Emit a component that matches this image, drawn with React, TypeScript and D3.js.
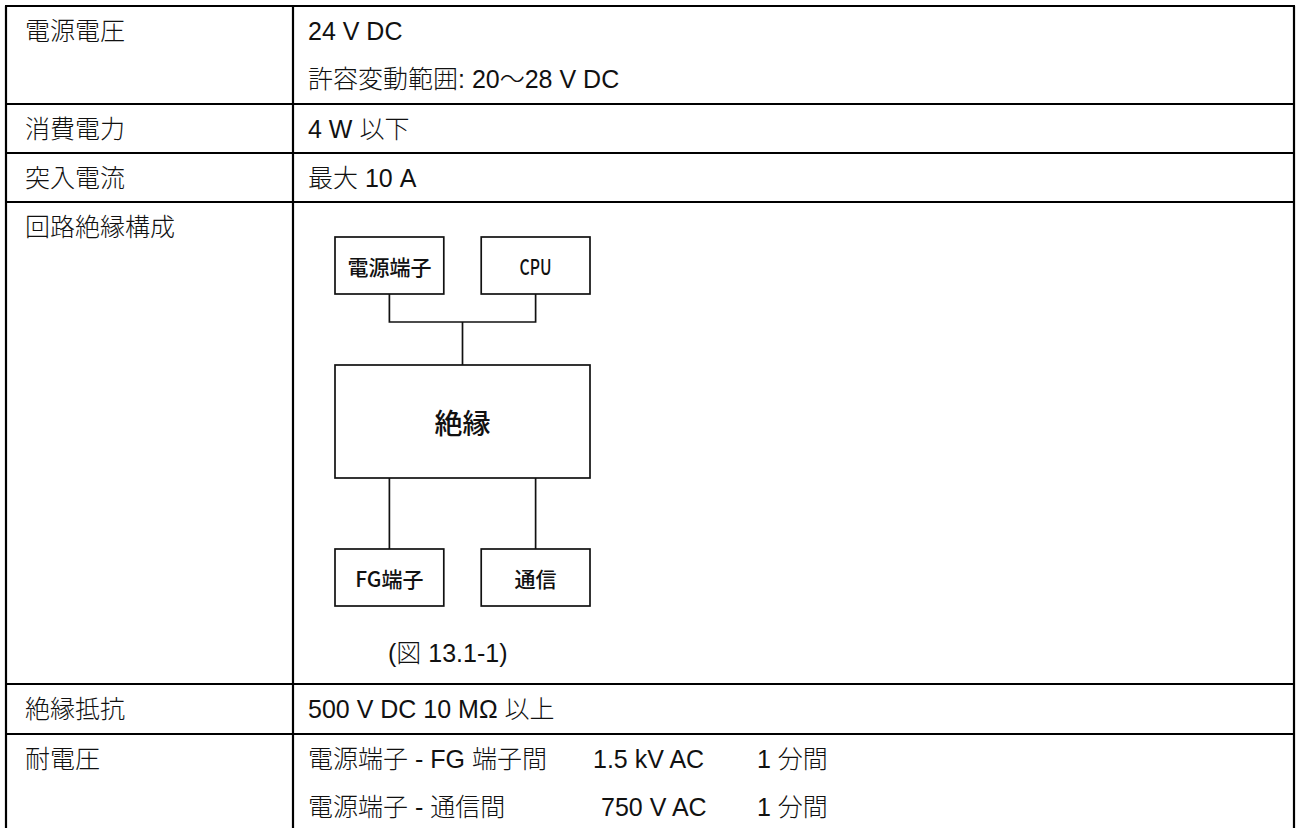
import React from "react";
import * as d3 from "d3";

const labels = ["電源電圧", "消費電力", "突入電流", "回路絶縁構成", "絶縁抵抗", "耐電圧"];
const values: string[][] = [
  ["24 V DC", "許容変動範囲: 20〜28 V DC"],
  ["4 W 以下"],
  ["最大 10 A"],
  [],
  ["500 V DC 10 MΩ 以上"],
  [],
];
const withstandLines = [
  ["電源端子 - FG 端子間", "1.5 kV AC", "1 分間"],
  ["電源端子 - 通信間", "750 V AC", "1 分間"],
];
const topNodes = ["電源端子", "CPU"];
const middleNode = "絶縁";
const bottomNodes = ["FG端子", "通信"];
const caption = "(図 13.1-1)";

// layout
const W = 1300;
const H = 828;
const rowEdges = [6, 104, 153, 202, 684, 734, 840];
const xLeft = 6;
const xDiv = 293;
const xRight = 1294;
const FONT = "'Liberation Sans', Arial, 'Noto Sans CJK JP', sans-serif";
const FS = 25;

export default function App() {
  const rowY = (i: number) => rowEdges[i];
  const textX = d3.scaleLinear().domain([0, 1]).range([xLeft + 19, xDiv + 15]);
  const lineGap = 48;

  const colX = d3.scaleBand<number>().domain([0, 1]).range([335, 590]).paddingInner(0.256);
  const bw = colX.bandwidth();
  const yTop = [237, 294];
  const yMid = [365, 478];
  const yBot = [549, 606];
  const joinY = 322;
  const cx = (i: number) => (colX(i) as number) + bw / 2;
  const midCx = (335 + 590) / 2;

  const stroke = "#000";
  const tx = (s: string, x: number, y: number, key?: string) => (
    <text key={key} x={x} y={y} dominantBaseline="central" fontSize={FS} fill="#111" fontWeight={300}>
      {s}
    </text>
  );
  return (
    <svg
      width={W}
      height={H}
      style={{ position: "absolute", left: 0, top: 0, background: "#fff" }}
      fontFamily={FONT}
    >
      <rect x={0} y={0} width={W} height={H} fill="#fff" />
      {rowEdges.slice(0, -1).map((y, i) => (
        <line key={"h" + i} x1={xLeft - 1} x2={xRight + 1} y1={y} y2={y} stroke={stroke} strokeWidth={2.2} />
      ))}
      <line x1={xLeft} x2={xLeft} y1={rowEdges[0]} y2={H + 5} stroke={stroke} strokeWidth={2.2} />
      <line x1={xDiv} x2={xDiv} y1={rowEdges[0]} y2={H + 5} stroke={stroke} strokeWidth={2.2} />
      <line x1={xRight} x2={xRight} y1={rowEdges[0]} y2={H + 5} stroke={stroke} strokeWidth={2.2} />

      {labels.map((l, i) => tx(l, textX(0), rowY(i) + 25, "l" + i))}
      {values.map((vs, i) => vs.map((v, j) => tx(v, textX(1), rowY(i) + 25 + j * lineGap, "v" + i + "-" + j)))}
      {withstandLines.map((segs, j) => (
        <g key={"w" + j}>
          {tx(segs[0], textX(1), rowY(5) + 25 + j * lineGap)}
          {tx(segs[1], j === 0 ? 593 : 601, rowY(5) + 25 + j * lineGap)}
          {tx(segs[2], 757, rowY(5) + 25 + j * lineGap)}
        </g>
      ))}

      <g stroke="#111" strokeWidth={1.7} fill="none">
        {topNodes.map((_, i) => (
          <rect key={"tb" + i} x={colX(i)} y={yTop[0]} width={bw} height={yTop[1] - yTop[0]} />
        ))}
        <rect x={335} y={yMid[0]} width={590 - 335} height={yMid[1] - yMid[0]} />
        {bottomNodes.map((_, i) => (
          <rect key={"bb" + i} x={colX(i)} y={yBot[0]} width={bw} height={yBot[1] - yBot[0]} />
        ))}
        <path d={`M${cx(0)},${yTop[1]}V${joinY}H${cx(1)}V${yTop[1]}`} />
        <path d={`M${midCx},${joinY}V${yMid[0]}`} />
        {bottomNodes.map((_, i) => (
          <path key={"bl" + i} d={`M${cx(i)},${yMid[1]}V${yBot[0]}`} />
        ))}
      </g>
      <g fontFamily="'Noto Sans CJK JP', sans-serif" fill="#111" textAnchor="middle" fontWeight={500}>
        <text x={cx(0)} y={(yTop[0] + yTop[1]) / 2} dominantBaseline="central" fontSize={21}>
          {topNodes[0]}
        </text>
        <text
          x={cx(1)}
          y={(yTop[0] + yTop[1]) / 2}
          dominantBaseline="central"
          fontSize={21}
          textLength={32}
          lengthAdjust="spacingAndGlyphs"
        >
          {topNodes[1]}
        </text>
        <text x={midCx} y={(yMid[0] + yMid[1]) / 2} dominantBaseline="central" fontSize={28}>
          {middleNode}
        </text>
        <text x={cx(0)} y={(yBot[0] + yBot[1]) / 2} dominantBaseline="central" fontSize={21}>
          {bottomNodes[0]}
        </text>
        <text x={cx(1)} y={(yBot[0] + yBot[1]) / 2} dominantBaseline="central" fontSize={21}>
          {bottomNodes[1]}
        </text>
      </g>
      {tx(caption, 388, 653)}
    </svg>
  );
}
